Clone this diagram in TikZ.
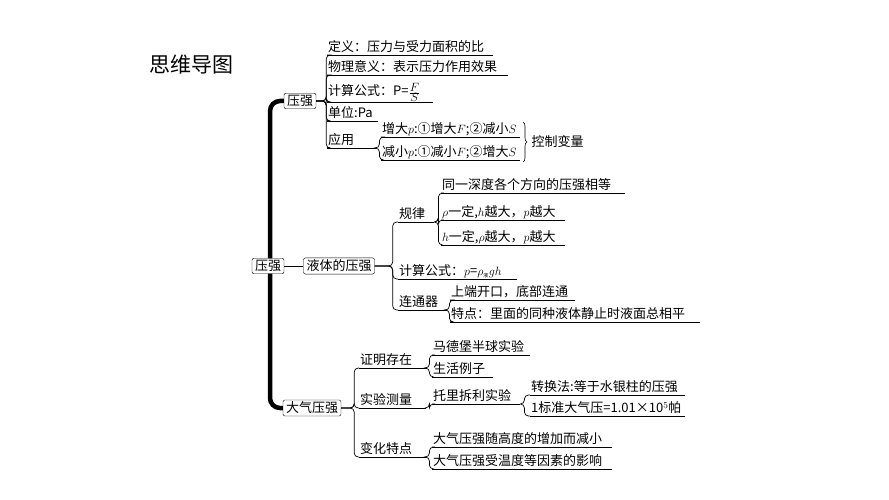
\documentclass[tikz,border=0pt]{standalone}
\usepackage{fontspec}
\setmainfont{Noto Sans CJK SC}
\usetikzlibrary{decorations.pathreplacing}

\begin{document}
\begin{tikzpicture}[x=1pt, y=-1pt, font=\fontsize{13}{15}\selectfont,
  box/.style={draw, rounded corners=2pt, fill=white, inner xsep=3pt, inner ysep=2pt},
  leaf/.style={anchor=south west, text width=#1, align=left, inner xsep=1pt, inner ysep=1pt, text height=10pt, text depth=2pt},
  branch/.style={rounded corners=4pt, line width=0.7pt}]
\useasboundingbox (0,0) rectangle (889,500);

% Title
\node[anchor=west, font=\fontsize{21}{24}\selectfont] (title) at (146,65) {思维导图};

% Branch boxes
\node[box] (ya) at (300,101) {压强};
\node[box] (yt) at (339,266) {液体的压强};
\node[box] (dq) at (312,408) {大气压强};

% Spine and root
\draw[line width=4.5pt, rounded corners=10pt] (ya.west) -- (270,101) -- (270,408) -- (dq.west);
\node[box] (root) at (268,266) {压强};
\draw[branch] (root.east) -- (yt.west);

% Pressure
\node[leaf=164] (d1) at (327,55) {定义：压力与受力面积的比};
\node[leaf=179] (d2) at (327,75) {物理意义：表示压力作用效果};
\node[leaf=104, text depth=5pt] (d3) at (327,102) {计算公式：P=$\frac{\displaystyle F}{\displaystyle S}$};
\node[leaf=49] (d4) at (327,121) {单位:Pa};
\node[leaf=47] (d5) at (327,148) {应用};
\node[leaf=137] (d51) at (381,137) {增大$p$:①增大$F$;②减小$S$};
\node[leaf=137] (d52) at (381,160) {减小$p$:①减小$F$;②增大$S$};
\draw[decorate, decoration={brace, amplitude=4pt}, line width=0.6pt] (523,122) -- (523,162);
\node[anchor=west] (ctrl) at (528,142) {控制变量};
\foreach \c in {d1,d2,d3,d4,d5} \draw[branch] (ya.east) -- ++(10,0) |- (\c.south west);
\foreach \c in {d51,d52} \draw[branch] (d5.south east) -- ++(3,0) |- (\c.south west);

% Liquid pressure
\node[leaf=34] (g1) at (398,222) {规律};
\node[leaf=182] (g11) at (441,193) {同一深度各个方向的压强相等};
\node[leaf=122] (g12) at (441,220) {$\rho$一定,$h$越大，$p$越大};
\node[leaf=122] (g13) at (441,245) {$h$一定,$\rho$越大，$p$越大};
\node[leaf=117] (g2) at (398,279) {计算公式：$p$=$\rho_{\mbox{\tiny 液}}gh$};
\node[leaf=47] (g3) at (398,310) {连通器};
\node[leaf=123] (g31) at (450,300) {上端开口，底部连通};
\node[leaf=248] (g32) at (450,322) {特点：里面的同种液体静止时液面总相平};
\foreach \c in {g1,g2,g3} \draw[branch] (yt.east) -- ++(18,0) |- (\c.south west);
\foreach \c in {g11,g12,g13} \draw[branch] (g1.south east) -- ++(4,0) |- (\c.south west);
\foreach \c in {g31,g32} \draw[branch] (g3.south east) -- ++(2,0) |- (\c.south west);

% Atmospheric pressure
\node[leaf=65] (h1) at (359,368) {证明存在};
\node[leaf=96] (h11) at (432,355) {马德堡半球实验};
\node[leaf=59] (h12) at (432,377) {生活例子};
\node[leaf=65] (h2) at (359,408) {实验测量};
\node[leaf=86] (h21) at (432,404) {托里拆利实验};
\node[leaf=153] (h211) at (530,395) {转换法:等于水银柱的压强};
\node[leaf=153] (h212) at (530,416) {1标准大气压=1.01×10$^5$帕};
\node[leaf=65] (h3) at (359,457) {变化特点};
\node[leaf=178] (h31) at (432,447) {大气压强随高度的增加而减小};
\node[leaf=178] (h32) at (432,469) {大气压强受温度等因素的影响};
\foreach \c in {h1,h2,h3} \draw[branch] (dq.east) -- ++(13,0) |- (\c.south west);
\foreach \c in {h11,h12} \draw[branch] (h1.south east) -- ++(3,0) |- (\c.south west);
\draw[branch] (h2.south east) -- ++(3,0) |- (h21.south west);
\foreach \c in {h211,h212} \draw[branch] (h21.south east) -- ++(4,0) |- (\c.south west);
\foreach \c in {h31,h32} \draw[branch] (h3.south east) -- ++(3,0) |- (\c.south west);

% Underlines
\foreach \n in {d1,d2,d3,d4,d5,d51,d52,g1,g11,g12,g13,g2,g3,g31,g32,h1,h11,h12,h2,h21,h211,h212,h3,h31,h32}
  \draw[line width=0.7pt] (\n.south west) -- (\n.south east);
\end{tikzpicture}
\end{document}
